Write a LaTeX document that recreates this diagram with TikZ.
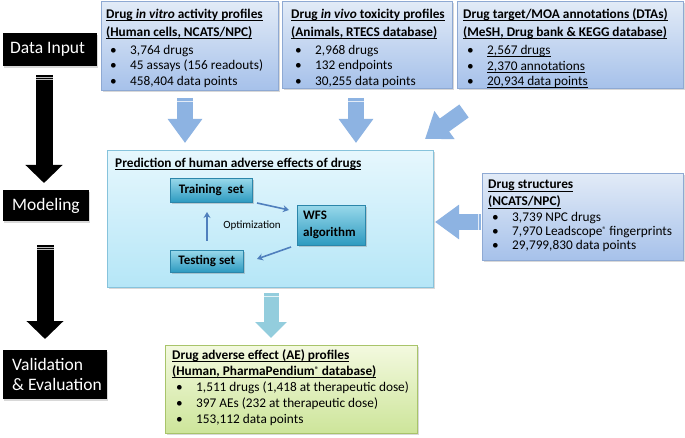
\documentclass[tikz,border=0pt]{standalone}
\usepackage{fontspec}
\setmainfont{Carlito}
\usetikzlibrary{arrows.meta,shadows,calc}
\definecolor{tbTop}{HTML}{E2EBF7}
\definecolor{tbBot}{HTML}{A6C1EA}
\definecolor{tbLine}{HTML}{8EA9D3}
\definecolor{mbTop}{HTML}{E6F7FD}
\definecolor{mbBot}{HTML}{B5E6F7}
\definecolor{mbLine}{HTML}{86C3DC}
\definecolor{ibTop}{HTML}{98D8EA}
\definecolor{ibBot}{HTML}{2C9AC0}
\definecolor{ibLine}{HTML}{2B86AA}
\definecolor{gbTop}{HTML}{F3F9DF}
\definecolor{gbBot}{HTML}{CDE59A}
\definecolor{gbLine}{HTML}{A8C46A}
\definecolor{arrBlue}{HTML}{8DB3E2}
\definecolor{arrCyan}{HTML}{93CDDD}
\definecolor{innerArr}{HTML}{4F7FBD}
\newcommand\myul[1]{\setbox0\hbox{#1}\rlap{\rule[-2.4pt]{\wd0}{0.7pt}}\box0}
\newcommand\bitem[1]{\hspace*{4pt}\makebox[20pt][l]{\textbullet}#1}
\newcommand\ttl[1]{\myul{\textbf{#1}}}
\newcommand\regmark{{\fontsize{8}{8}\selectfont\raisebox{3pt}{®}}}
\tikzset{
  topbox/.style={draw=tbLine, line width=0.6pt, top color=tbTop, bottom color=tbBot,
    rectangle, inner sep=0pt, anchor=north west,
    drop shadow={shadow xshift=1.2pt, shadow yshift=-1.5pt, opacity=0.3}},
  midbox/.style={draw=mbLine, line width=0.6pt, top color=mbTop, bottom color=mbBot,
    rectangle, inner sep=0pt, anchor=north west,
    drop shadow={shadow xshift=1.2pt, shadow yshift=-1.5pt, opacity=0.3}},
  grnbox/.style={draw=gbLine, line width=0.6pt, top color=gbTop, bottom color=gbBot,
    rectangle, inner sep=0pt, anchor=north west,
    drop shadow={shadow xshift=1.2pt, shadow yshift=-1.5pt, opacity=0.3}},
  innerbox/.style={draw=ibLine, line width=0.6pt, top color=ibTop, bottom color=ibBot,
    rectangle, inner sep=0pt, anchor=north west,
    drop shadow={shadow xshift=1.2pt, shadow yshift=-1.5pt, opacity=0.35}},
  blkbox/.style={fill=black, rectangle, inner sep=0pt, anchor=north west,
    drop shadow={shadow xshift=1pt, shadow yshift=-1.5pt, opacity=0.3}},
  txt/.style={anchor=north west, inner sep=0pt, align=left, font=\fontsize{13.3}{15.5}\selectfont},
  blktxt/.style={anchor=west, inner sep=0pt, align=left, text=white, font=\fontsize{17.5}{20}\selectfont},
  blkarrow/.style={draw=black, line width=17pt, -{Triangle[width=36pt,length=18pt]}},
  bluearrow/.style={draw=arrBlue, line width=16pt, -{Triangle[width=33pt,length=24pt]}},
  cyanarrow/.style={draw=arrCyan, line width=15pt, -{Triangle[width=31pt,length=16pt]}},
  stripe/.style={draw=white, line width=0.9pt, opacity=0.75},
  innerarrow/.style={draw=innerArr, line width=1.6pt, -{Stealth[width=7pt,length=6pt]}},
}
\begin{document}
\begin{tikzpicture}[x=1pt,y=-1pt]
\useasboundingbox[fill=white] (0,0) rectangle (685,438);

% left column
\node[blkbox, minimum width=94pt, minimum height=33pt] (din) at (3,33) {};
\node[blktxt] (dint) at ($(din.west)+(7,0)$) {Data Input};
\node[blkbox, minimum width=86pt, minimum height=31pt] (mod) at (3,190) {};
\node[blktxt] (modt) at ($(mod.west)+(9,0)$) {Modeling};
\node[blkbox, minimum width=104pt, minimum height=49pt] (val) at (3,350) {};
\node[blktxt] (valt) at ($(val.west)+(9,0)$) {Validation\\\& Evaluation};

\coordinate (k1s) at (44,75);
\coordinate (k1e) at (44,183);
\coordinate (k2s) at (45,245);
\coordinate (k2e) at (45,339);
\draw[blkarrow] (k1s) -- (k1e);
\draw[blkarrow] (k2s) -- (k2e);
\draw[stripe] ($(k1s)+(-8.5,2.5)$) -- ($(k1s)+(8.5,2.5)$);
\draw[stripe] ($(k1s)+(-8.5,4.5)$) -- ($(k1s)+(8.5,4.5)$);
\draw[stripe] ($(k2s)+(-8.5,2.5)$) -- ($(k2s)+(8.5,2.5)$);
\draw[stripe] ($(k2s)+(-8.5,4.5)$) -- ($(k2s)+(8.5,4.5)$);

% top boxes
\node[topbox, minimum width=177pt, minimum height=89pt] (b1) at (101,1) {};
\node[txt] (b1t) at (106,8.5) {\ttl{Drug \textit{in vitro} activity profiles}\\[2.5pt]
\ttl{(Human cells, NCATS/NPC)}\\[2.5pt]
\bitem{3,764 drugs}\\
\bitem{45 assays (156 readouts)}\\
\bitem{458,404 data points}};

\node[topbox, minimum width=170pt, minimum height=87pt] (b2) at (282,1) {};
\node[txt] (b2t) at (291,8.5) {\ttl{Drug \textit{in vivo} toxicity profiles}\\[2.5pt]
\ttl{(Animals, RTECS database)}\\[2.5pt]
\bitem{2,968 drugs}\\
\bitem{132 endpoints}\\
\bitem{30,255 data points}};

\node[topbox, minimum width=226pt, minimum height=87pt] (b3) at (457,1) {};
\node[txt] (b3t) at (463,8.5) {\ttl{Drug target/MOA annotations (DTAs)}\\[2.5pt]
\ttl{(MeSH, Drug bank \& KEGG database)}\\[2.5pt]
\bitem{\myul{2,567 drugs}}\\
\bitem{\myul{2,370 annotations}}\\
\bitem{\myul{20,934 data points}}};

% middle box
\node[midbox, minimum width=326pt, minimum height=137pt] (mid) at (107,150) {};
\node[txt] (midt) at (115,158) {\ttl{Prediction of human adverse effects of drugs}};
\node[innerbox, minimum width=82pt, minimum height=24pt] (train) at (170,178) {};
\node[txt, font=\fontsize{13}{15}\selectfont\bfseries, anchor=center] (traint) at (train.center) {Training\ \ set};
\node[innerbox, minimum width=68pt, minimum height=40pt] (wfs) at (297,205) {};
\node[txt, font=\fontsize{13}{17}\selectfont\bfseries, anchor=west] (wfst) at ($(wfs.west)+(6,0)$) {WFS\\algorithm};
\node[innerbox, minimum width=73pt, minimum height=22pt] (test) at (170,250) {};
\node[txt, font=\fontsize{13}{15}\selectfont\bfseries, anchor=center] (testt) at (test.center) {Testing set};
\node[txt, font=\fontsize{11}{13}\selectfont, anchor=center] (opt) at (252,226) {Optimization};
\coordinate (i1s) at (257,203);
\coordinate (i1e) at (289,210);
\coordinate (i2s) at (207,241);
\coordinate (i2e) at (207,212);
\coordinate (i3s) at (291,247);
\coordinate (i3e) at (257,259);
\draw[innerarrow] (i1s) -- (i1e);
\draw[innerarrow] (i2s) -- (i2e);
\draw[innerarrow] (i3s) -- (i3e);

% drug structures
\node[topbox, minimum width=201pt, minimum height=87pt] (b4) at (482,173) {};
\node[txt, font=\fontsize{13.3}{14}\selectfont] (b4t) at (488,180) {\ttl{Drug structures}\\[3pt]
\ttl{(NCATS/NPC)}\\[1.5pt]
\bitem{3,739 NPC drugs}\\
\bitem{7,970 Leadscope\regmark\ fingerprints}\\
\bitem{29,799,830 data points}};

% green box
\node[grnbox, minimum width=252pt, minimum height=88pt] (grn) at (165,345) {};
\node[txt, font=\fontsize{13.3}{15.9}\selectfont] (grnt) at (172,349.5) {\ttl{Drug adverse effect (AE) profiles}\\
\ttl{(Human, PharmaPendium\regmark\ database)}\\
\bitem{1,511 drugs (1,418 at therapeutic dose)}\\
\bitem{397 AEs (232 at therapeutic dose)}\\
\bitem{153,112 data points}};

% blue arrows
\coordinate (a1s) at (185,98);
\coordinate (a1e) at (185,143);
\coordinate (a2s) at (356,98);
\coordinate (a2e) at (356,143);
\coordinate (a3s) at (464,111);
\coordinate (a3e) at (425,139);
\coordinate (a4s) at (481,222);
\coordinate (a4e) at (435,222);
\coordinate (a5s) at (271,293);
\coordinate (a5e) at (271,338);
\draw[bluearrow] (a1s) -- (a1e);
\draw[bluearrow] (a2s) -- (a2e);
\draw[bluearrow] (a3s) -- (a3e);
\draw[bluearrow] (a4s) -- (a4e);
\draw[cyanarrow] (a5s) -- (a5e);
\draw[stripe] ($(a1s)+(-8,3)$) -- ($(a1s)+(8,3)$);
\draw[stripe] ($(a2s)+(-8,3)$) -- ($(a2s)+(8,3)$);
\draw[stripe] ($(a5s)+(-7.5,3)$) -- ($(a5s)+(7.5,3)$);
\draw[stripe] ($(a4s)+(-3,-8)$) -- ($(a4s)+(-3,8)$);
\end{tikzpicture}
\end{document}
